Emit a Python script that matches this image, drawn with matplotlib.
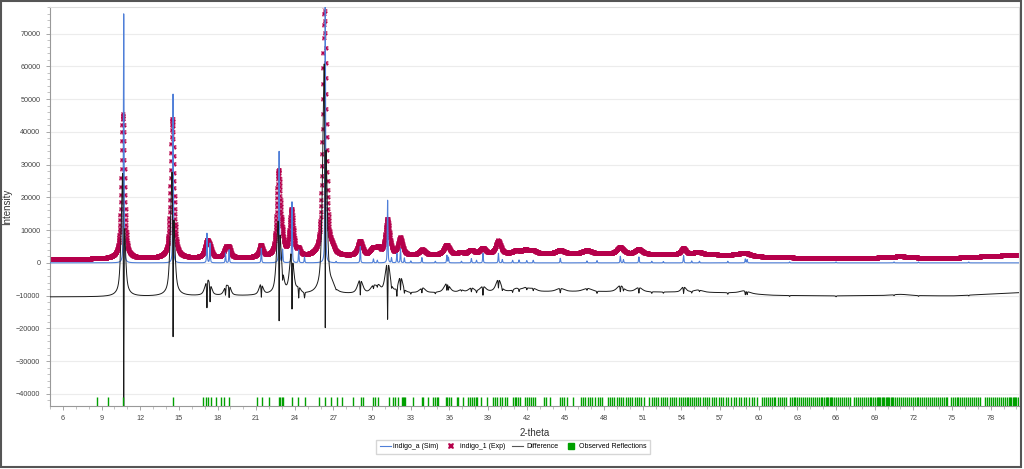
import numpy as np
import matplotlib
matplotlib.use('Agg')
import matplotlib.pyplot as plt
from matplotlib.lines import Line2D
from matplotlib.patches import Rectangle
from matplotlib.ticker import MultipleLocator

# simulated pattern: sharp peaks (2-theta, intensity)
sim_pos = [10.72, 14.55, 17.18, 17.42, 18.62, 18.90, 21.40, 22.78, 23.05, 23.78,
           24.30, 24.75, 26.36, 27.20, 29.08, 30.10, 30.40, 31.20, 31.50, 31.92,
           32.20, 32.50, 33.00, 33.86, 34.90, 35.80, 35.92, 36.93, 37.70, 38.10,
           38.60, 39.80, 40.10, 40.90, 41.40, 42.00, 42.50, 44.60, 46.67, 47.45,
           49.26, 49.50, 50.70, 51.70, 52.60, 54.17, 54.80, 55.40, 57.60, 58.96,
           59.10, 62.40, 66.00, 70.50, 72.40, 76.30]
sim_int = [76000, 51500, 9000, 6000, 3000, 4000, 4400, 34000, 4000, 18600,
           3900, 1800, 82000, 400, 5000, 1200, 800, 19100, 1500, 2900,
           4400, 1500, 600, 1600, 500, 2300, 1700, 500, 1300, 800,
           2900, 2900, 1000, 800, 900, 700, 800, 1400, 600, 700,
           2000, 1000, 1800, 500, 400, 2200, 600, 500, 500, 1200,
           1000, 300, 300, 300, 250, 250]

# experimental pattern: broad peaks (2-theta, intensity above background, fwhm)
exp_pos = [10.67, 14.50, 17.20, 17.45, 18.65, 18.92, 21.38, 22.75, 23.05, 23.75,
           24.30, 26.31, 26.90, 29.07, 30.10, 30.50, 31.20, 32.20, 33.90, 35.80,
           36.90, 37.70, 38.60, 39.80, 41.20, 41.90, 42.50, 44.60, 46.70, 49.26,
           50.70, 54.17, 55.30, 58.90, 71.00]
exp_int = [44000, 42500, 5000, 2000, 2800, 2600, 3600, 26000, 3000, 14000,
           1800, 78000, 1500, 4500, 2200, 1800, 11000, 5200, 1600, 3000,
           700, 1300, 1800, 4000, 900, 1100, 900, 1000, 1000, 2000,
           1400, 1800, 700, 900, 400]
exp_fwhm = [0.30, 0.32, 0.40, 0.30, 0.35, 0.30, 0.35, 0.35, 0.30, 0.35,
            0.30, 0.32, 0.40, 0.45, 0.50, 0.40, 0.40, 0.40, 0.50, 0.50,
            0.40, 0.50, 0.50, 0.45, 0.60, 0.60, 0.60, 0.70, 0.80, 0.60,
            0.60, 0.40, 0.80, 0.90, 1.50]

# experimental background read at a few points
bg_pos = [5, 10, 16, 20, 25, 30, 35, 40, 45, 50, 55, 58, 61, 65, 70, 75, 80.2]
bg_int = [1200, 1200, 1400, 1500, 1700, 2000, 2400, 2700, 2800, 2700, 2600, 2400,
          1700, 1500, 1600, 1500, 2500]

diff_offset = -11600

# observed reflection positions
refl_pos = [8.62, 9.48, 10.69, 14.57,
            16.90, 17.09, 17.29, 17.48, 17.86, 18.28, 18.49, 18.92,
            21.04, 21.48, 22.02, 22.75, 22.87, 23.00, 23.10, 23.81, 24.28, 24.80,
            25.90, 26.35, 26.82, 27.26, 27.67, 28.55, 29.12, 29.28,
            30.10, 30.23, 30.49, 31.27, 31.65, 31.79, 31.97, 32.30, 32.38, 32.46, 32.56,
            33.16, 33.86, 33.98, 34.30, 34.70, 34.85, 35.00, 35.10,
            35.70, 35.82, 35.95, 36.10, 36.60, 36.70, 37.04, 37.45, 37.60, 37.75, 37.90,
            38.05, 38.15, 38.44, 38.90, 39.40, 39.55, 39.70, 39.90, 40.10, 40.30, 40.46,
            40.90, 41.05, 41.20, 41.35, 41.50, 41.90, 42.05, 42.20, 42.35, 42.50, 42.65,
            43.30, 43.50, 43.80, 44.55, 44.72, 44.90, 45.10, 45.58,
            46.20, 46.35, 46.55, 46.72, 46.90, 47.10, 47.30, 47.50, 47.70, 47.85,
            48.27, 48.45, 48.62, 48.80, 48.98, 49.15, 49.32, 49.50, 49.68, 49.85, 50.02,
            50.20, 50.38, 50.55, 50.72, 50.90, 51.08,
            51.50, 51.68, 51.85, 52.02, 52.20, 52.38, 52.55, 52.72, 52.90, 53.08, 53.25,
            53.42, 53.60, 53.78, 53.95, 54.12, 54.30, 54.45, 54.55, 54.70, 54.85,
            55.00, 55.15, 55.30, 55.48, 55.65, 55.82, 56.00, 56.18, 56.35, 56.52, 56.70,
            56.88, 57.05, 57.25, 57.45, 57.65, 57.85, 58.05, 58.25, 58.45, 58.65, 58.85,
            59.05, 59.25, 59.45, 59.65, 59.85,
            60.25, 60.40, 60.55, 60.70, 60.85, 61.00, 61.15, 61.30, 61.48, 61.65, 61.82,
            62.00, 62.15, 62.45, 62.60, 62.72, 62.85, 63.00, 63.15, 63.30, 63.45, 63.60,
            63.75, 63.90, 64.05, 64.20, 64.35, 64.50, 64.65, 64.80,
            64.95, 65.10, 65.20, 65.30, 65.40, 65.50, 65.60, 65.70, 65.85, 66.00, 66.15,
            66.30, 66.45, 66.60, 66.75, 66.90, 67.05,
            67.40, 67.55, 67.70, 67.85, 68.00, 68.15, 68.30, 68.45, 68.60, 68.75, 68.90,
            69.05, 69.15, 69.25, 69.35, 69.45, 69.55, 69.65, 69.75, 69.85, 69.95, 70.05,
            70.15, 70.25, 70.35, 70.45, 70.60, 70.75, 70.90, 71.05, 71.20, 71.35, 71.50,
            71.65, 71.80, 71.95, 72.10, 72.25, 72.40, 72.55, 72.70, 72.85, 73.00, 73.15,
            73.30, 73.45, 73.60, 73.75, 73.90, 74.05, 74.20, 74.35, 74.50, 74.65,
            74.90, 75.05, 75.20, 75.35, 75.50, 75.65, 75.80, 75.95, 76.10, 76.25, 76.40,
            76.55, 76.70, 76.85, 77.00, 77.15,
            77.60, 77.75, 77.90, 78.05, 78.20, 78.35, 78.50, 78.65, 78.80, 78.95, 79.10,
            79.25, 79.40, 79.50, 79.60, 79.70, 79.80, 79.90, 80.00, 80.10]

x_min, x_max = 5.0, 80.2


def pseudo_voigt(x, pos, height, fwhm, eta):
    d = (x - pos) / fwhm
    gauss = np.exp(-4 * np.log(2) * d ** 2)
    lorentz = 1 / (1 + 4 * d ** 2)
    return height * (eta * lorentz + (1 - eta) * gauss)


def main() -> None:
    plt.rcParams['font.family'] = ['Liberation Sans', 'DejaVu Sans']

    x = np.arange(x_min, x_max, 0.005)
    sim = np.zeros_like(x)
    for p, h in zip(sim_pos, sim_int):
        sim += pseudo_voigt(x, p, h, 0.06, 0.5)
    exp = np.interp(x, bg_pos, bg_int)
    for p, h, w in zip(exp_pos, exp_int, exp_fwhm):
        exp += pseudo_voigt(x, p, h, w, 0.6)
    diff = exp - sim + diff_offset

    fig = plt.figure(figsize=(10.24, 4.69), dpi=100)
    ax = fig.add_axes([50 / 1024, 1 - 405.7 / 469, 969 / 1024, 398.4 / 469])

    ax.plot(x[::3], exp[::3], linestyle='none', marker='X', markersize=3.6,
            markeredgewidth=0, color='#b5004b', zorder=2)
    ax.plot(x, sim, color='#4f7fd8', lw=0.8, zorder=3)
    ax.plot(x, diff, color='#1a1a1a', lw=0.7, zorder=4)
    ax.vlines(refl_pos, -43600, -41000, color='#00a000', lw=1.0, zorder=5)

    ax.set_xlim(x_min, x_max)
    ax.set_ylim(-43600, 78000)
    ax.xaxis.set_major_locator(MultipleLocator(3))
    ax.xaxis.set_minor_locator(MultipleLocator(1))
    ax.yaxis.set_major_locator(MultipleLocator(10000))
    ax.yaxis.set_minor_locator(MultipleLocator(2000))
    ax.grid(axis='y', color='#ececec', lw=0.8)
    ax.set_axisbelow(True)
    ax.tick_params(which='major', length=3, width=0.6, color='#999999',
                   labelsize=5.2, labelcolor='#444444', pad=4)
    ax.tick_params(which='minor', length=2, width=0.5, color='#aaaaaa')
    for side in ['left', 'bottom']:
        ax.spines[side].set_color('#999999')
    for side in ['top', 'right']:
        ax.spines[side].set_color('#dddddd')

    ax.set_xlabel('2-theta', fontsize=7, color='#333333')
    ax.xaxis.set_label_coords(0.5, -0.055)
    ax.set_ylabel('Intensity', fontsize=7, color='#333333')
    ax.yaxis.set_label_coords(-0.039, 0.5)

    handles = [
        Line2D([], [], color='#4f7fd8', lw=0.8),
        Line2D([], [], linestyle='none', marker='X', markersize=5,
               markeredgewidth=0, color='#b5004b'),
        Line2D([], [], color='#555555', lw=0.8),
        Line2D([], [], linestyle='none', marker='s', markersize=4, color='#00a000'),
    ]
    labels = ['indigo_a (Sim)', 'indigo_1 (Exp)', 'Difference', 'Observed Reflections']
    fig.legend(handles, labels, loc='center', bbox_to_anchor=(0.501, 0.047), ncol=4,
               fontsize=5, frameon=True, fancybox=False, edgecolor='#cccccc',
               handlelength=1.6, handletextpad=0.4, columnspacing=1.0, borderpad=0.5)

    # outer frame of the picture
    fig.patches.append(Rectangle((0.0008, 0.004), 0.9965, 0.994, transform=fig.transFigure,
                                 fill=False, edgecolor='#555555', lw=1.5))

    fig.savefig('out.png', dpi=100)


if __name__ == '__main__':
    main()
